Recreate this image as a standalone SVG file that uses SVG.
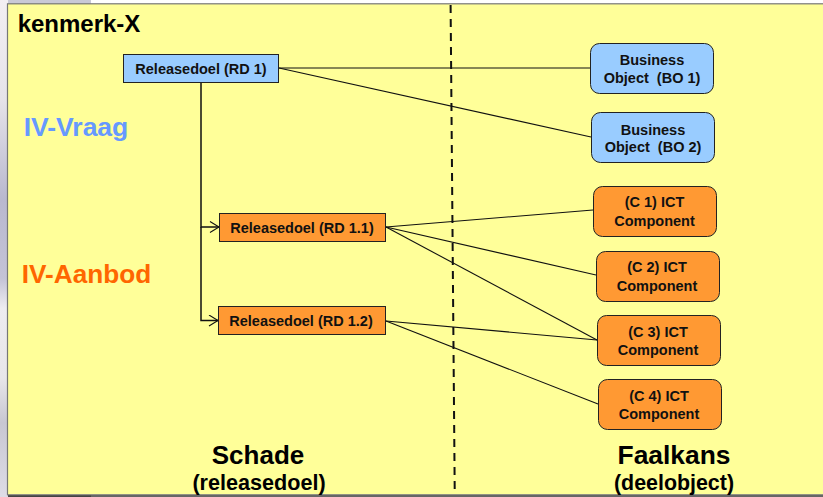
<svg xmlns="http://www.w3.org/2000/svg" width="823" height="497" viewBox="0 0 823 497">
<style>
text{font-family:"Liberation Sans",Arial,sans-serif;font-weight:bold;fill:#000;text-anchor:middle;white-space:pre}
.n{font-size:14.500px;fill:#111}
.c{fill:none;stroke:#111;stroke-width:1.100}
.blue{fill:#99ccff;stroke:#222;stroke-width:1}
.or{fill:#ff9933;stroke:#222;stroke-width:1}
</style>
<defs>
<marker id="arr" markerUnits="userSpaceOnUse" markerWidth="12" markerHeight="14" refX="10" refY="6" orient="auto"><path d="M1 0.500L10 6L1 11.500" fill="none" stroke="#111" stroke-width="1.100"/></marker>
<linearGradient id="bg" x1="0" y1="0" x2="0" y2="1"><stop offset="0" stop-color="#f3eff3"/><stop offset=".2" stop-color="#e6e3ea"/><stop offset=".4" stop-color="#b9b8cf"/><stop offset=".56" stop-color="#c4c3d6"/><stop offset=".62" stop-color="#eeecf0"/><stop offset=".76" stop-color="#e8e6ea"/><stop offset=".85" stop-color="#c8c7d2"/><stop offset="1" stop-color="#dedce6"/></linearGradient>
</defs>
<rect width="823" height="497" fill="#fff"/>
<rect width="8" height="497" fill="url(#bg)"/>
<rect x="8" width="83" height="4" fill="#c9c9d6"/>
<rect id="panel" x="7.500" y="3.800" width="817" height="491" fill="#ffff99" stroke="#777" stroke-width="1.200"/>
<rect x="8" y="495" width="815" height="2" fill="#666"/>
<rect x="8" y="495.500" width="83" height="1.500" fill="#444"/>
<path d="M450.600 5L454.700 489" fill="none" stroke="#111" stroke-width="2" stroke-dasharray="8 6"/>
<text x="79" y="32" font-size="24">kenmerk-X</text>
<text x="76" y="136" font-size="26.500" style="fill:#6699ff">IV-Vraag</text>
<text x="86.500" y="283" font-size="26.200" style="fill:#ff6600">IV-Aanbod</text>
<text x="258" y="464" font-size="26">Schade</text>
<text x="259" y="490" font-size="21.600">(releasedoel)</text>
<text x="674" y="464" font-size="26.400">Faalkans</text>
<text x="674" y="490" font-size="21.400">(deelobject)</text>
<g id="connectors">
<path class="c" d="M279 68L590 68"/>
<path class="c" d="M279 68L591 137"/>
<path class="c" style="stroke-width:1.500" d="M201 83V227H219" marker-end="url(#arr)"/>
<path class="c" style="stroke-width:1.500" d="M201 227V320.500H218" marker-end="url(#arr)"/>
<path class="c" d="M386 227L593 210"/>
<path class="c" d="M386 227L596 275"/>
<path class="c" d="M386 227L597 340"/>
<path class="c" d="M386 321L597 340"/>
<path class="c" d="M386 321L598 404"/>
</g>
<g id="rd1"><rect class="blue" x="123.500" y="54.500" width="155" height="28"/><text class="n" x="201" y="73.500">Releasedoel (RD 1)</text></g>
<g id="rd11"><rect class="or" x="219.500" y="213.500" width="166" height="28"/><text class="n" x="302" y="233">Releasedoel (RD 1.1)</text></g>
<g id="rd12"><rect class="or" x="218.500" y="306.500" width="167" height="28"/><text class="n" x="301" y="326">Releasedoel (RD 1.2)</text></g>
<g id="bo1"><rect class="blue" x="590.500" y="43.500" width="123" height="50" rx="9"/><text class="n" x="652" y="65">Business</text><text class="n" x="652" y="83">Object  (BO 1)</text></g>
<g id="bo2"><rect class="blue" x="591.500" y="112.500" width="123" height="50" rx="9"/><text class="n" x="653" y="135">Business</text><text class="n" x="653" y="152">Object  (BO 2)</text></g>
<g id="c1"><rect class="or" x="593.500" y="186.500" width="123" height="50" rx="9"/><text class="n" x="654.500" y="207">(C 1) ICT</text><text class="n" x="654.500" y="226">Component</text></g>
<g id="c2"><rect class="or" x="596.500" y="251.500" width="123" height="50" rx="9"/><text class="n" x="657" y="272">(C 2) ICT</text><text class="n" x="657" y="291">Component</text></g>
<g id="c3"><rect class="or" x="597.500" y="315.500" width="123" height="50" rx="9"/><text class="n" x="658" y="337">(C 3) ICT</text><text class="n" x="658" y="355">Component</text></g>
<g id="c4"><rect class="or" x="598.500" y="379.500" width="123" height="50" rx="9"/><text class="n" x="659" y="401">(C 4) ICT</text><text class="n" x="659" y="419">Component</text></g>
</svg>
